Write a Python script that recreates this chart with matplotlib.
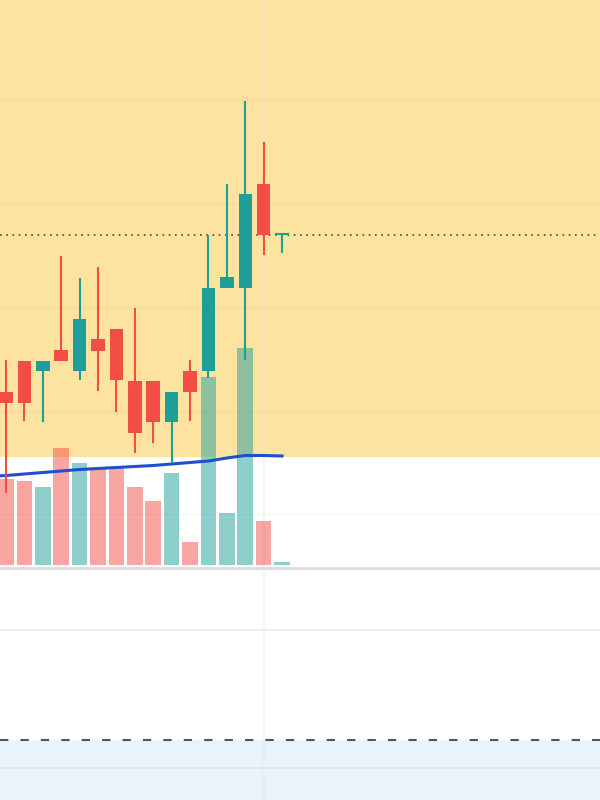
import numpy as np
import matplotlib.pyplot as plt
from matplotlib.transforms import blended_transform_factory

# Świece (OHLC)
opens  = [41.79, 44.78, 43.82, 45.85, 43.82, 46.91, 47.87, 42.85, 42.85, 38.89, 43.82, 43.82, 51.84, 51.84, 61.88, 56.96]
highs  = [44.88, 44.78, 44.78, 54.93, 52.80, 53.86, 47.87, 49.90, 42.85, 41.79, 44.88, 56.96, 61.88, 69.90, 65.94, 56.96]
lows   = [32.03, 38.99, 38.89, 44.78, 42.95, 41.88, 39.86, 35.89, 36.86, 34.93, 38.99, 43.14, 51.84, 44.88, 55.02, 55.22]
closes = [40.72, 40.72, 44.78, 44.78, 48.84, 45.75, 42.95, 37.83, 38.89, 41.79, 41.79, 51.84, 52.90, 60.92, 56.96, 56.96]

# Wolumen (tys.) i średnia krocząca wolumenu
volumes = [86, 84, 78, 117, 102, 97, 97, 78, 64, 92, 23, 188, 52, 217, 44, 3]
vol_ma = [88.5, 89.5, 91, 92.5, 94, 95.5, 96.5, 97.5, 98.5, 99.5, 101, 102.5, 104, 107, 109.5, 109.5, 109]

last_price = 56.96
zone_low = 35.5        # dolna granica żółtej strefy
lower_pane_top = 8.16  # przerywana linia / niebieski panel
grid_prices = [30, 40, 50, 60, 70]
sep_prices = [70 - (568 - 100) / 10.35, 70 - (630 - 100) / 10.35, 70 - (768 - 100) / 10.35]

UP = '#1F9E99'
DOWN = '#F24E46'
PMIN, PMAX = 2.37, 79.66

x = np.arange(len(opens))
o, h, l, c = map(np.array, (opens, highs, lows, closes))
up = c >= o
colors = np.where(up, UP, DOWN)

fig = plt.figure(figsize=(6, 8), dpi=100)
ax_vol = fig.add_axes([0, 0, 1, 1])
ax = ax_vol.twinx()

ax_vol.set_xlim(-0.326, 32.28)
ax_vol.set_ylim(-235, 565)
ax.set_ylim(PMIN, PMAX)

# Tła rysowane na dolnej osi (pod wolumenem), w skali cen
tr = blended_transform_factory(ax_vol.transAxes, ax.transData)
ax_vol.fill_between([0, 1], zone_low, PMAX, color='#FDE3A0', lw=0, zorder=0, transform=tr)
ax_vol.fill_between([0, 1], PMIN, lower_pane_top, color='#E9F3FC', lw=0, zorder=0, transform=tr)
for gp in grid_prices:
    ax_vol.plot([0, 1], [gp, gp], color='#A89060', lw=1, alpha=0.08, transform=tr, zorder=0.5)
ax_vol.plot([0, 1], [sep_prices[0]] * 2, color='#DCDCDC', lw=2, transform=tr, zorder=0.5)
ax_vol.plot([0, 1], [sep_prices[1]] * 2, color='#EBEBEB', lw=1.2, transform=tr, zorder=0.5)
ax_vol.plot([0, 1], [sep_prices[2]] * 2, color='#D6E3EE', lw=1.2, transform=tr, zorder=0.5)
ax_vol.axvline(14, color='#E6E6E6', lw=1.2, alpha=0.5, zorder=0.5)
ax_vol.plot([0, 1], [lower_pane_top] * 2, color='#555555', lw=1.5, ls=(0, (4, 5.8)),
            transform=tr, zorder=1)

# Wolumen
ax_vol.bar(x, volumes, width=0.84, color=colors, alpha=0.5, lw=0, zorder=2)
ax_vol.plot(np.arange(-1, len(opens)), vol_ma, color='#1E4FD0', lw=2.2, zorder=3)

# Świece
ax.vlines(x, l, h, color=colors, lw=1.5, zorder=3)
body_low = np.minimum(o, c)
body_h = np.maximum(np.abs(c - o), 0.15)
ax.bar(x, body_h, bottom=body_low, width=0.73, color=colors, lw=0, zorder=4)

# Linia ostatniej ceny
ax.axhline(last_price, color='#4D4535', lw=1.2, ls=(0, (1, 2.75)), zorder=2)

for a in (ax, ax_vol):
    a.set_xticks([])
    a.set_yticks([])
    for s in a.spines.values():
        s.set_visible(False)

fig.savefig('out.png', dpi=100, facecolor='white')
